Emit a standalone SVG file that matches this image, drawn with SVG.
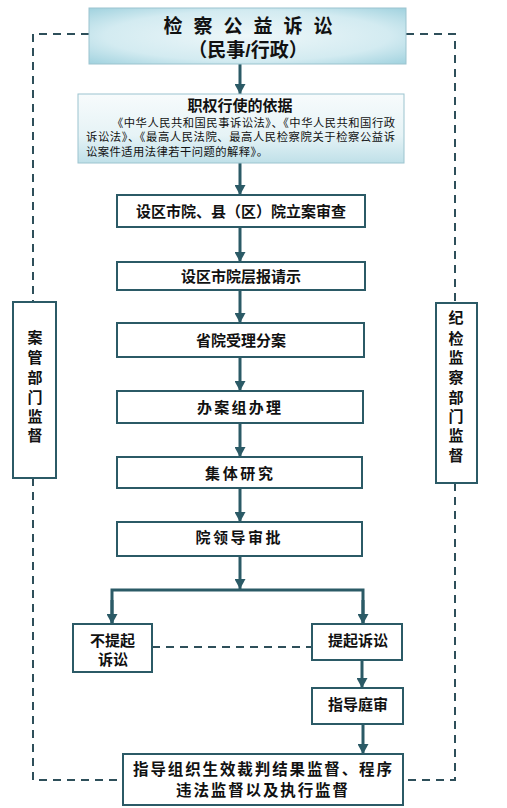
<svg xmlns="http://www.w3.org/2000/svg" width="507" height="808" viewBox="0 0 507 808">
<defs>
<radialGradient id="gHead" cx="0.5" cy="0.5" r="0.75">
<stop offset="0" stop-color="#eef7f9"/>
<stop offset="0.6" stop-color="#d3ebf1"/>
<stop offset="1" stop-color="#97cddb"/>
</radialGradient>
<linearGradient id="gBasis" x1="0" y1="0" x2="0" y2="1">
<stop offset="0" stop-color="#f7fbfc"/>
<stop offset="0.6" stop-color="#e6f3f6"/>
<stop offset="1" stop-color="#bfe0e8"/>
</linearGradient>
<marker id="arr" markerUnits="userSpaceOnUse" markerWidth="12" markerHeight="11" refX="10" refY="5.5" orient="auto" viewBox="0 0 10 11">
<path d="M0,0 L10,5.5 L0,11 z" fill="#2b5a66"/>
</marker>
<style>
.box{fill:#fff;stroke:#2b5a66;stroke-width:2}
.t{font-family:"Liberation Sans","Noto Sans CJK SC",sans-serif;font-weight:700;fill:#111;text-anchor:middle}
.s{font-family:"Liberation Sans","Noto Sans CJK SC",sans-serif;fill:#111}
.ln{stroke:#2b5a66;stroke-width:3;fill:none}
.dash{stroke:#2e4f5a;stroke-width:2;fill:none;stroke-dasharray:8 6}
</style>
</defs>

<g id="connectors">
<path class="dash" d="M89,34 H33 V302"/>
<path class="dash" d="M33,478 V780 H123"/>
<path class="dash" d="M406,34 H455 V303"/>
<path class="dash" d="M455,483 V780 H403"/>
<path class="dash" d="M152,647 H312"/>
<line class="ln" x1="240" y1="64" x2="240" y2="94" marker-end="url(#arr)"/>
<line class="ln" x1="240" y1="163" x2="240" y2="195" marker-end="url(#arr)"/>
<line class="ln" x1="240" y1="227" x2="240" y2="262" marker-end="url(#arr)"/>
<line class="ln" x1="240" y1="290" x2="240" y2="323" marker-end="url(#arr)"/>
<line class="ln" x1="240" y1="357" x2="240" y2="391" marker-end="url(#arr)"/>
<line class="ln" x1="240" y1="423" x2="240" y2="457" marker-end="url(#arr)"/>
<line class="ln" x1="240" y1="488" x2="240" y2="522" marker-end="url(#arr)"/>
<line class="ln" x1="240" y1="556" x2="240" y2="589" marker-end="url(#arr)"/>
<path class="ln" d="M112,624 V590 H363 V624"/>
<line class="ln" x1="112" y1="600" x2="112" y2="624" marker-end="url(#arr)"/>
<line class="ln" x1="363" y1="600" x2="363" y2="624" marker-end="url(#arr)"/>
<line class="ln" x1="362" y1="660" x2="362" y2="688" marker-end="url(#arr)"/>
<line class="ln" x1="363" y1="724" x2="363" y2="754" marker-end="url(#arr)"/>
</g>

<g id="header">
<rect x="89" y="8" width="317" height="56" fill="url(#gHead)" stroke="#9cc4cf" stroke-width="1"/>
<text class="t" x="248" y="33" font-size="19" textLength="169" lengthAdjust="spacing">检 察 公 益 诉 讼</text>
<text class="t" x="248" y="57" font-size="19">（民事/行政）</text>
</g>

<g id="basis">
<rect x="78" y="94" width="326" height="69" fill="url(#gBasis)" stroke="#9cc4cf" stroke-width="1"/>
<text class="t" x="240" y="111" font-size="15">职权行使的依据</text>
<text class="s" x="112" y="127" font-size="11.3" textLength="283" lengthAdjust="spacing">《中华人民共和国民事诉讼法》、《中华人民共和国行政</text>
<text class="s" x="86" y="141" font-size="11.3" textLength="309" lengthAdjust="spacing">诉讼法》、《最高人民法院、最高人民检察院关于检察公益诉</text>
<text class="s" x="86" y="156" font-size="11.3" textLength="182" lengthAdjust="spacing">讼案件适用法律若干问题的解释》。</text>
</g>

<g id="n1">
<rect class="box" x="117" y="195" width="248" height="32"/>
<text class="t" x="241" y="217" font-size="15">设区市院、县（区）院立案审查</text>
</g>
<g id="n2">
<rect class="box" x="117" y="262" width="248" height="28"/>
<text class="t" x="241" y="282" font-size="15">设区市院层报请示</text>
</g>
<g id="n3">
<rect class="box" x="117" y="323" width="247" height="34"/>
<text class="t" x="241" y="346" font-size="15">省院受理分案</text>
</g>
<g id="n4">
<rect class="box" x="117" y="391" width="246" height="32"/>
<text class="t" x="239" y="413" font-size="15" textLength="84" lengthAdjust="spacing">办案组办理</text>
</g>
<g id="n5">
<rect class="box" x="117" y="457" width="245" height="31"/>
<text class="t" x="239" y="479" font-size="15" textLength="68" lengthAdjust="spacing">集体研究</text>
</g>
<g id="n6">
<rect class="box" x="117" y="522" width="245" height="34"/>
<text class="t" x="238" y="543" font-size="15" textLength="85" lengthAdjust="spacing">院领导审批</text>
</g>

<g id="noSuit">
<rect class="box" x="73" y="624" width="79" height="48"/>
<text class="t" x="112.5" y="646" font-size="15">不提起</text>
<text class="t" x="113" y="665" font-size="15">诉讼</text>
</g>
<g id="suit">
<rect class="box" x="312" y="624" width="90" height="36"/>
<text class="t" x="358" y="646" font-size="15">提起诉讼</text>
</g>
<g id="trial">
<rect class="box" x="312" y="688" width="91" height="36"/>
<text class="t" x="358" y="710" font-size="15">指导庭审</text>
</g>
<g id="supervise">
<rect class="box" x="123" y="754" width="280" height="51"/>
<text class="t" x="262.5" y="775" font-size="15.5" textLength="259" lengthAdjust="spacing">指导组织生效裁判结果监督、程序</text>
<text class="t" x="262" y="796" font-size="15.5" textLength="172" lengthAdjust="spacing">违法监督以及执行监督</text>
</g>

<g id="leftSide">
<rect class="box" x="13" y="302" width="43" height="176"/>
<text class="t" x="35" font-size="15"><tspan x="35" y="343">案</tspan><tspan x="35" y="363">管</tspan><tspan x="35" y="383">部</tspan><tspan x="35" y="403">门</tspan><tspan x="35" y="422">监</tspan><tspan x="35" y="441">督</tspan></text>
</g>
<g id="rightSide">
<rect class="box" x="436" y="303" width="41" height="180"/>
<text class="t" x="456" font-size="15"><tspan x="456" y="323">纪</tspan><tspan x="456" y="344">检</tspan><tspan x="456" y="363">监</tspan><tspan x="456" y="383">察</tspan><tspan x="456" y="403">部</tspan><tspan x="456" y="422">门</tspan><tspan x="456" y="441">监</tspan><tspan x="456" y="461">督</tspan></text>
</g>
</svg>
